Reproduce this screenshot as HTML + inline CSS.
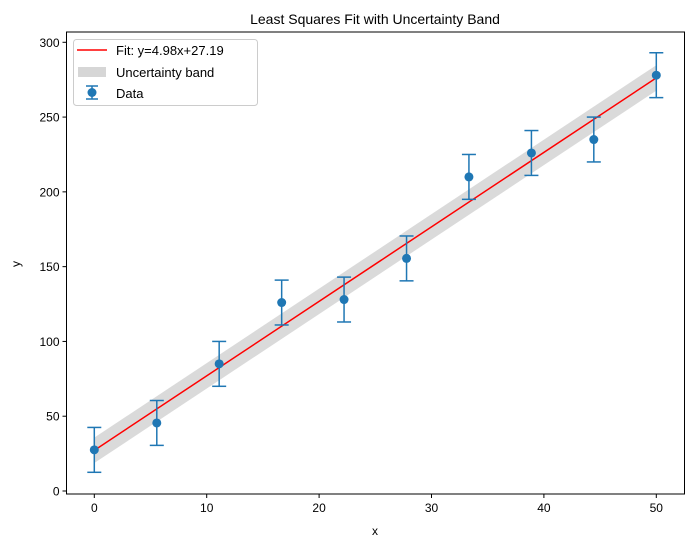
<!DOCTYPE html>
<html><head><meta charset="utf-8"><style>body{margin:0;background:#fff}svg{font-family:"Liberation Sans","DejaVu Sans",sans-serif}</style></head>
<body>
<svg id="c" width="695" height="547" xmlns="http://www.w3.org/2000/svg"></svg>
<script>
const xs=[0,5.56,11.11,16.67,22.22,27.78,33.33,38.89,44.44,50];
const ys=[27.5,45.5,85,126,128,155.5,210,226,235,278];
const errs=[15,15,15,15,15,15,15,15,15,15];
const slope=4.98, intercept=27.19, band=8.5;
const xTicks=[0,10,20,30,40,50];
const yTicks=[0,50,100,150,200,250,300];
const L=66.5,R=684.5,T=32,B=494;
const X=v=>94.3+v*11.24, Y=v=>491-v*1.4957;
const s=document.getElementById('c');const NS='http://www.w3.org/2000/svg';
function el(t,a,p){const e=document.createElementNS(NS,t);for(const k in a)e.setAttribute(k,a[k]);(p||s).appendChild(e);return e;}
let e;
e=el('polygon',{points:`${X(0)},${Y(intercept+band)} ${X(50)},${Y(50*slope+intercept+band)} ${X(50)},${Y(50*slope+intercept-band)} ${X(0)},${Y(intercept-band)}`,fill:'#bbb','fill-opacity':0.55});

e=el('line',{x1:X(0),y1:Y(intercept),x2:X(50),y2:Y(50*slope+intercept),stroke:'red','stroke-width':1.5});

xs.forEach((x,i)=>{const g=el('g',{});

const px=X(x);
el('line',{x1:px,x2:px,y1:Y(ys[i]-errs[i]),y2:Y(ys[i]+errs[i]),stroke:'#1f77b4','stroke-width':1.5},g);
[ys[i]-errs[i],ys[i]+errs[i]].forEach(v=>el('line',{x1:px-7,x2:px+7,y1:Y(v),y2:Y(v),stroke:'#1f77b4','stroke-width':1.5},g));
el('circle',{cx:px,cy:Y(ys[i]),r:4.5,fill:'#1f77b4'},g);});
e=el('rect',{x:L,y:T,width:R-L,height:B-T,fill:'none',stroke:'#000','stroke-width':1});

xTicks.forEach(t=>{el('line',{x1:X(t),x2:X(t),y1:B,y2:B+4,stroke:'#000'});
e=el('text',{x:X(t),y:B+18,'text-anchor':'middle','font-size':12});e.textContent=t;
});
yTicks.forEach(t=>{el('line',{x1:L-4,x2:L,y1:Y(t),y2:Y(t),stroke:'#000'});
e=el('text',{x:L-7,y:Y(t)+4.5,'text-anchor':'end','font-size':12});e.textContent=t;
});
</script>
<svg width="695" height="547" style="position:absolute;left:0;top:0" xmlns="http://www.w3.org/2000/svg" font-family="Liberation Sans, DejaVu Sans, sans-serif">
<text x="375" y="24" text-anchor="middle" font-size="14">Least Squares Fit with Uncertainty Band</text>
<text x="375" y="535" text-anchor="middle" font-size="12">x</text>
<text x="20" y="264" text-anchor="middle" font-size="12" transform="rotate(-90 20 264)">y</text>
<g>
<rect x="73.5" y="39.5" width="184" height="66" rx="3" fill="#fff" fill-opacity="0.8" stroke="#ccc"/>
<line x1="77" y1="50" x2="107" y2="50" stroke="red" stroke-width="1.5"/>
<text x="116" y="55" font-size="13">Fit: y=4.98x+27.19</text>
<rect x="78" y="67" width="28" height="10" fill="#bbb" fill-opacity="0.6"/>
<text x="116" y="77" font-size="13">Uncertainty band</text>
<line x1="92" y1="86" x2="92" y2="99" stroke="#1f77b4" stroke-width="1.5"/>
<line x1="86" y1="86" x2="98" y2="86" stroke="#1f77b4" stroke-width="1.5"/>
<line x1="86" y1="99" x2="98" y2="99" stroke="#1f77b4" stroke-width="1.5"/>
<circle cx="92" cy="92.5" r="4.5" fill="#1f77b4"/>
<text x="116" y="98" font-size="13">Data</text>
</g>
</svg>
</body></html>
